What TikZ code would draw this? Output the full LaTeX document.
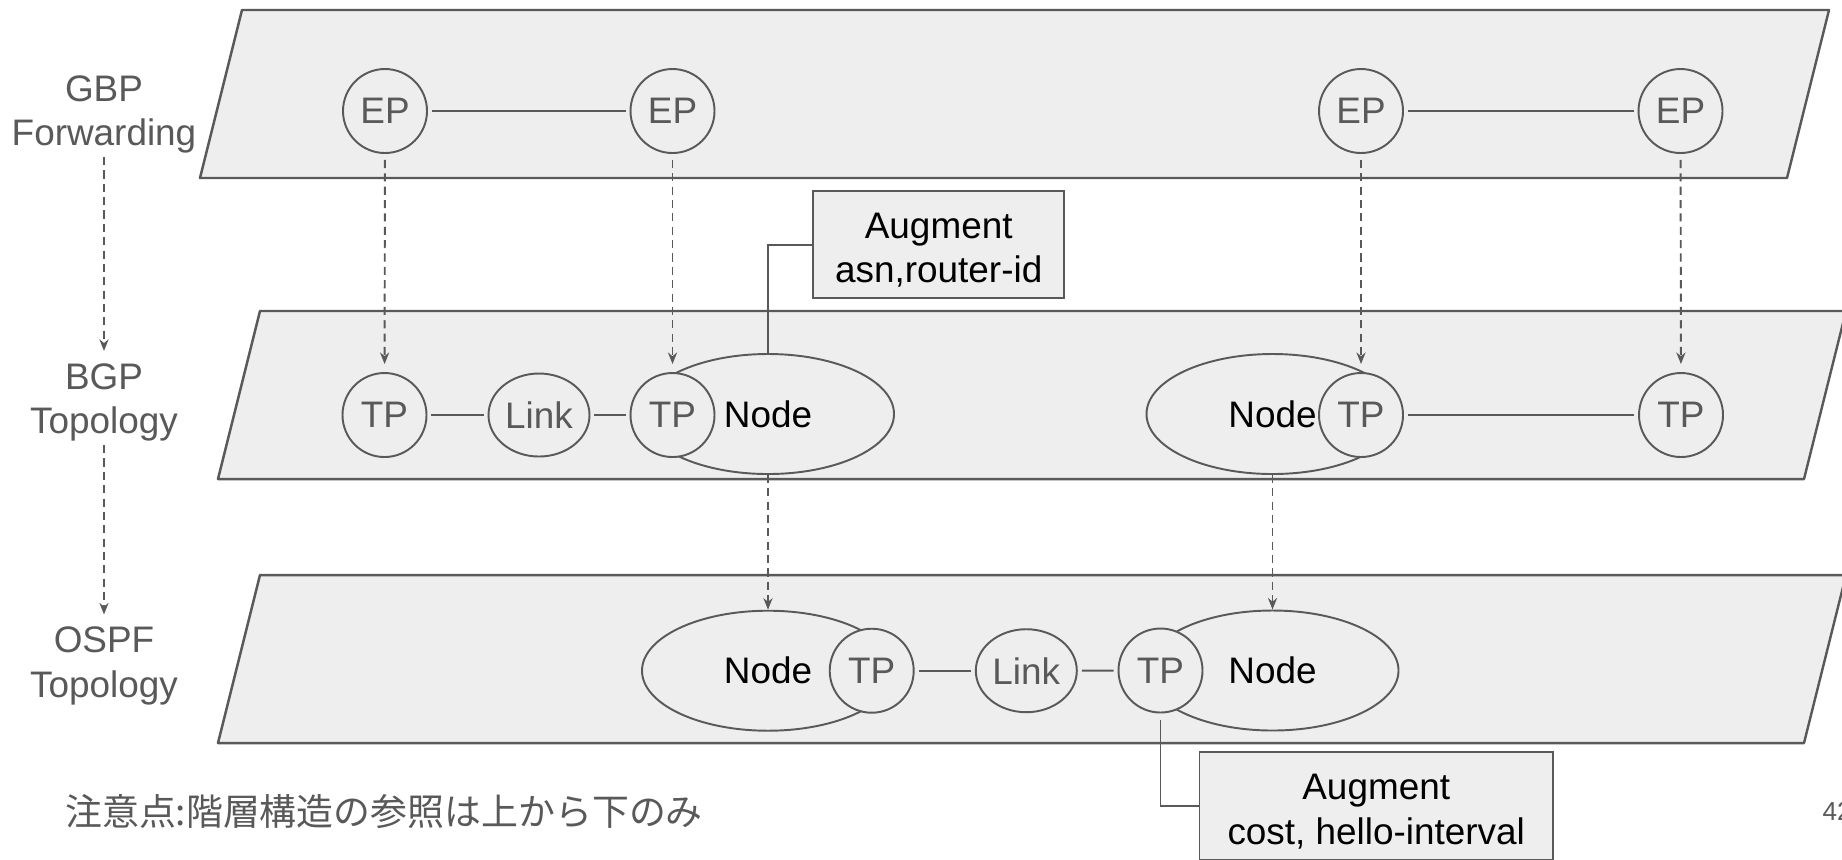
\documentclass[tikz,border=0pt]{standalone}
\usepackage{fontspec}
\setmainfont{Liberation Sans}
\newfontfamily\jpfont{Noto Sans CJK JP}
\usetikzlibrary{arrows.meta,shapes.geometric}
\definecolor{layerc}{HTML}{EEEEEE}
\definecolor{linec}{HTML}{595959}
\definecolor{labelc}{HTML}{595959}
\tikzset{
  layer/.style={fill=layerc, draw=linec, line width=0.7pt, line join=round},
  port/.style={circle, draw=linec, fill=layerc, line width=0.55pt, minimum size=0.84cm, inner sep=0pt, text=labelc},
  link/.style={ellipse, draw=linec, fill=layerc, line width=0.55pt, minimum width=1.01cm, minimum height=0.83cm, inner sep=0pt, text=labelc},
  router/.style={ellipse, draw=linec, fill=layerc, line width=0.55pt, minimum width=2.52cm, minimum height=1.2cm, inner sep=0pt},
  wire/.style={draw=linec, line width=0.55pt},
  refer/.style={draw=linec, line width=0.55pt, dash pattern=on 2.3pt off 1.5pt, -{Stealth[length=3.3pt,width=2.6pt]}},
  augbox/.style={draw=linec, fill=layerc, line width=0.55pt, align=center, inner sep=0pt, text height=23pt},
  tier/.style={align=center, text=labelc, inner sep=0pt},
}

\begin{document}
\begin{tikzpicture}[font=\fontsize{10.5pt}{12.6pt}\selectfont]
\clip (0,0) rectangle (18.42,-8.59);
\fill[white] (0,0) rectangle (18.42,-8.59);
\draw[layer] (2.42,-0.10) -- (18.29,-0.10) -- (17.87,-1.78) -- (2.00,-1.78) -- cycle;
\draw[layer] (2.60,-3.11) -- (18.46,-3.11) -- (18.04,-4.79) -- (2.18,-4.79) -- cycle;
\draw[layer] (2.60,-5.75) -- (18.46,-5.75) -- (18.04,-7.43) -- (2.18,-7.43) -- cycle;
\node[tier] (gbp) at (1.04,-1.145) {GBP\\Forwarding};
\node[tier] (bgp) at (1.04,-4.025) {BGP\\Topology};
\node[tier] (ospf) at (1.04,-6.66) {OSPF\\Topology};
\node[port] (ep1) at (3.850,-1.11) {EP};
\node[port] (ep2) at (6.725,-1.11) {EP};
\node[port] (ep3) at (13.610,-1.11) {EP};
\node[port] (ep4) at (16.805,-1.11) {EP};
\node[router] (nd1) at (7.680,-4.14) {Node};
\node[router] (nd2) at (12.725,-4.14) {Node};
\node[port] (tp1) at (3.845,-4.15) {TP};
\node[link] (lk1) at (5.390,-4.15) {Link};
\node[port] (tp2) at (6.725,-4.15) {TP};
\node[port] (tp3) at (13.610,-4.15) {TP};
\node[port] (tp4) at (16.810,-4.15) {TP};
\node[router] (nd3) at (7.680,-6.707) {Node};
\node[router] (nd4) at (12.725,-6.705) {Node};
\node[port] (tp5) at (8.717,-6.707) {TP};
\node[link] (lk2) at (10.263,-6.707) {Link};
\node[port] (tp6) at (11.605,-6.705) {TP};
\node[augbox, minimum width=2.507cm, minimum height=1.073cm] (aug1) at (9.387,-2.447) {Augment\\asn,router-id};
\node[augbox, minimum width=3.535cm, minimum height=1.073cm] (aug2) at (13.762,-8.06) {Augment\\cost, hello-interval};
\draw[wire, shorten <=0.04cm, shorten >=0.04cm] (ep1) -- (ep2);
\draw[wire, shorten <=0.04cm, shorten >=0.04cm] (ep3) -- (ep4);
\draw[wire, shorten <=0.04cm, shorten >=0.04cm] (tp1) -- (lk1);
\draw[wire, shorten <=0.04cm, shorten >=0.04cm] (lk1) -- (tp2);
\draw[wire, shorten <=0.04cm, shorten >=0.04cm] (tp3) -- (tp4);
\draw[wire, shorten <=0.04cm, shorten >=0.04cm] (tp5) -- (lk2);
\draw[wire, shorten <=0.04cm, shorten >=0.04cm] (lk2) -- (tp6);
\draw[wire] (aug1.west) -| (nd1.north);
\draw[wire, shorten <=0.07cm] (tp6.south) |- (aug2.west);
\draw[refer, shorten <=0.06cm, shorten >=0.08cm] (ep1) -- (tp1);
\draw[refer, shorten <=0.06cm, shorten >=0.08cm] (ep2) -- (tp2);
\draw[refer, shorten <=0.06cm, shorten >=0.08cm] (ep3) -- (tp3);
\draw[refer, shorten <=0.06cm, shorten >=0.08cm] (ep4) -- (tp4);
\draw[refer] (nd1.south) -- (nd3.north);
\draw[refer] (nd2.south) -- (nd4.north);
\draw[refer, shorten <=0.03cm, shorten >=0.12cm] (gbp) -- (bgp);
\draw[refer, shorten <=0.03cm, shorten >=0.12cm] (bgp) -- (ospf);
\node[anchor=west, text=labelc, inner sep=0pt, font=\fontsize{10.5pt}{12pt}\jpfont] (note) at (0.645,-8.117) {注意点:階層構造の参照は上から下のみ};
\node[anchor=west, text=labelc, inner sep=0pt, font=\fontsize{7.4pt}{9pt}\selectfont] (page) at (18.22,-8.118) {42};
\end{tikzpicture}
\end{document}
